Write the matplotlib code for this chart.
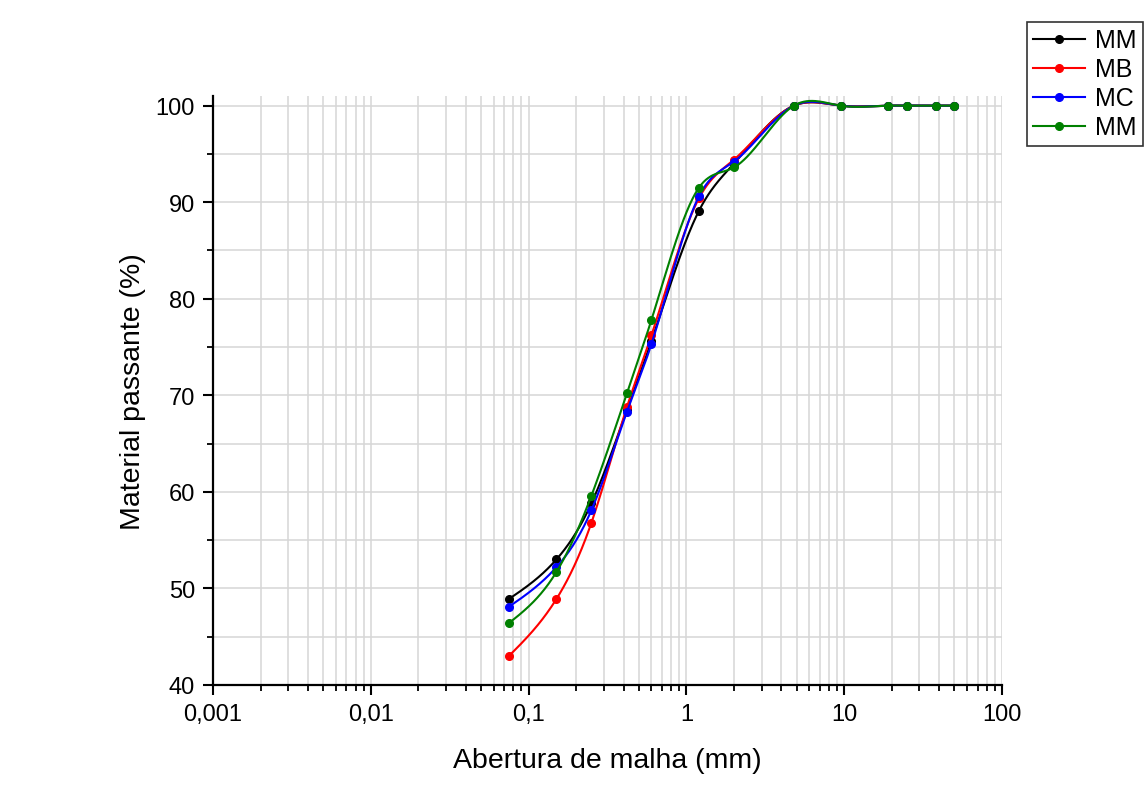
import numpy as np
import matplotlib
matplotlib.use("Agg")
import matplotlib.pyplot as plt
from matplotlib.ticker import FixedLocator, FuncFormatter, LogLocator, MultipleLocator, NullFormatter

plt.rcParams['font.family'] = ['Liberation Sans', 'DejaVu Sans']

# sieve openings (mm)
abertura = [0.075, 0.15, 0.25, 0.42, 0.6, 1.2, 2.0, 4.8, 9.5, 19, 25, 38, 50]

# percent passing per series
mm1 = [48.9, 53.0, 58.8, 68.5, 75.6, 89.1, 94.0, 100, 100, 100, 100, 100, 100]
mb = [43.0, 48.9, 56.8, 68.8, 76.2, 90.4, 94.4, 100, 100, 100, 100, 100, 100]
mc = [48.1, 52.2, 58.1, 68.3, 75.3, 90.6, 94.2, 100, 100, 100, 100, 100, 100]
mm2 = [46.4, 51.7, 59.6, 70.2, 77.8, 91.5, 93.6, 100, 100, 100, 100, 100, 100]

labels = ['MM', 'MB', 'MC', 'MM']
colors = ['black', 'red', 'blue', 'green']


def natural_spline(x, y, xs):
    ''' natural cubic spline through (x, y), evaluated at xs '''
    x = np.asarray(x, float)
    y = np.asarray(y, float)
    n = len(x)
    h = np.diff(x)
    A = np.zeros((n, n))
    b = np.zeros(n)
    A[0, 0] = 1
    A[-1, -1] = 1
    for i in range(1, n - 1):
        A[i, i - 1] = h[i - 1]
        A[i, i] = 2 * (h[i - 1] + h[i])
        A[i, i + 1] = h[i]
        b[i] = 6 * ((y[i + 1] - y[i]) / h[i] - (y[i] - y[i - 1]) / h[i - 1])
    M = np.linalg.solve(A, b)
    idx = np.clip(np.searchsorted(x, xs) - 1, 0, n - 2)
    x0, x1 = x[idx], x[idx + 1]
    hh = x1 - x0
    t0 = x1 - xs
    t1 = xs - x0
    return (M[idx] * t0**3 / (6 * hh) + M[idx + 1] * t1**3 / (6 * hh)
            + (y[idx] / hh - M[idx] * hh / 6) * t0
            + (y[idx + 1] / hh - M[idx + 1] * hh / 6) * t1)


fig = plt.figure(figsize=(11.46, 8.12), dpi=100)
ax = fig.add_axes([213 / 1146, 126 / 812, 789 / 1146, 589 / 812])

lx = np.log10(abertura)
xs = np.linspace(lx[0], lx[-1], 600)
for serie, lab, c in zip([mm1, mb, mc, mm2], labels, colors):
    ys = natural_spline(lx, serie, xs)
    ax.plot(10**xs, ys, color=c, lw=1.5)
    ax.plot(abertura, serie, 'o', color=c, ms=5.5)
    ax.plot([], [], '-o', color=c, lw=1.5, ms=5.5, label=lab)

ax.set_xscale('log')
ax.set_xlim(0.001, 100)
ax.set_ylim(40, 101)

ax.xaxis.set_major_locator(LogLocator(base=10, numticks=10))
ax.xaxis.set_minor_locator(LogLocator(base=10, subs=np.arange(2, 10), numticks=20))
ax.xaxis.set_minor_formatter(NullFormatter())
ax.xaxis.set_major_formatter(FuncFormatter(lambda v, p: ('%g' % v).replace('.', ',')))
ax.yaxis.set_major_locator(FixedLocator([40, 50, 60, 70, 80, 90, 100]))
ax.yaxis.set_minor_locator(MultipleLocator(5))

ax.grid(True, which='both', color='#d6d6d6', lw=1.1)
ax.set_axisbelow(True)
for s in ['top', 'right']:
    ax.spines[s].set_visible(False)
for s in ['left', 'bottom']:
    ax.spines[s].set_linewidth(1.6)
ax.tick_params(which='major', direction='out', length=7, width=1.5, labelsize=17, pad=6)
ax.tick_params(which='minor', direction='out', length=4, width=1.3)

ax.set_xlabel('Abertura de malha (mm)', fontsize=20.5, labelpad=16)
ax.set_ylabel('Material passante (%)', fontsize=20.5, labelpad=7)

leg = fig.legend(loc='upper right', bbox_to_anchor=(1143 / 1146, 1 - 23 / 812), fontsize=18,
                 frameon=True, fancybox=False, edgecolor='black', handlelength=2.1,
                 borderpad=0.25, labelspacing=0.2, handletextpad=0.4, borderaxespad=0)
leg.get_frame().set_linewidth(1.2)

fig.savefig('out.png', dpi=100)
